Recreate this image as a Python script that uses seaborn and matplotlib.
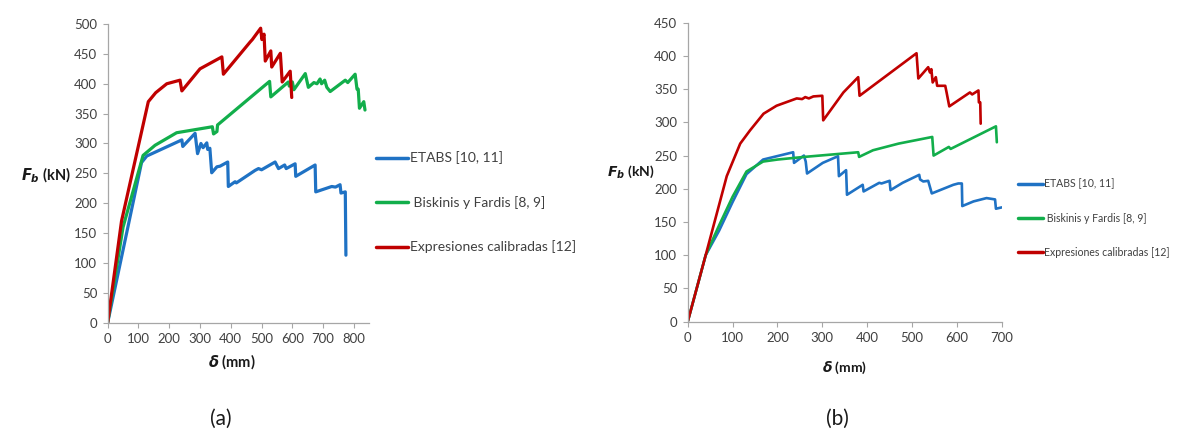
import matplotlib
matplotlib.use("Agg")
import matplotlib.pyplot as plt
import seaborn as sns
import numpy as np

# ---------------- data: panel (a) ----------------
a_etabs_x = [0, 110, 127, 241, 244, 284, 292, 303, 310, 322, 325, 332, 338, 355, 365, 390, 392,
             414, 418, 479, 490, 500, 544, 555, 575, 580, 609, 611, 674, 676, 728, 740, 755, 758,
             772, 774]
a_etabs_y = [0, 268, 279, 306, 295, 317, 283, 300, 293, 301, 290, 292, 251, 261, 262, 269, 228,
             236, 234, 255, 258, 256, 269, 258, 264, 258, 266, 245, 264, 219, 228, 227, 231, 217,
             219, 113]

a_bisk_x = [0, 50, 115, 154, 224, 340, 344, 355, 357, 526, 530, 587, 590, 600, 605, 642, 652,
            670, 680, 690, 695, 705, 712, 723, 772, 780, 804, 810, 814, 818, 832, 836]
a_bisk_y = [0, 160, 280, 297, 318, 328, 316, 320, 331, 404, 378, 403, 396, 403, 390, 417, 394,
            402, 400, 408, 400, 406, 394, 387, 406, 402, 416, 391, 391, 359, 370, 356]

a_expr_x = [0, 45, 132, 156, 192, 235, 241, 300, 371, 376, 463, 470, 497, 501, 508, 512, 530,
            533, 561, 567, 593, 598]
a_expr_y = [0, 170, 370, 385, 400, 406, 388, 425, 445, 416, 470, 474, 493, 474, 483, 438, 455,
            428, 451, 403, 421, 377]

# ---------------- data: panel (b) ----------------
b_etabs_x = [0, 40, 70, 100, 131, 168, 235, 237, 259, 263, 266, 301, 335, 337, 353, 355, 390, 392,
             427, 432, 450, 452, 479, 516, 518, 525, 536, 544, 592, 603, 611, 612, 637, 666,
             685, 687, 700]
b_etabs_y = [0, 100, 137, 180, 222, 244, 255, 239, 250, 241, 223, 239, 249, 219, 228, 191, 206, 196,
             209, 208, 212, 198, 209, 221, 214, 211, 212, 193, 206, 208, 208, 174, 181, 186,
             184, 170, 172]

b_bisk_x = [0, 40, 70, 100, 131, 168, 200, 260, 380, 382, 413, 470, 545, 548, 582, 586, 687, 689]
b_bisk_y = [0, 100, 145, 188, 226, 241, 244, 248, 255, 248, 258, 268, 278, 250, 263, 260, 294, 270]

b_expr_x = [0, 40, 87, 117, 139, 169, 198, 243, 255, 262, 270, 280, 300, 302, 347, 380, 383,
            510, 514, 536, 540, 543, 546, 553, 556, 574, 577, 583, 629, 634, 648, 649, 652, 653]
b_expr_y = [0, 100, 219, 268, 288, 313, 325, 336, 335, 338, 336, 339, 340, 303, 345, 368, 340,
            404, 366, 383, 375, 380, 360, 368, 355, 355, 345, 324, 345, 342, 348, 330, 330, 298]

labels = ["ETABS [10, 11]", " Biskinis y Fardis [8, 9]", "Expresiones calibradas [12]"]
colors = ["#1F72C4", "#12AE4B", "#C00000"]

a_xticks = [0, 100, 200, 300, 400, 500, 600, 700, 800]
a_yticks = [0, 50, 100, 150, 200, 250, 300, 350, 400, 450, 500]
b_xticks = [0, 100, 200, 300, 400, 500, 600, 700]
b_yticks = [0, 50, 100, 150, 200, 250, 300, 350, 400, 450]

# ---------------- style ----------------
sns.set_theme(style="white")
plt.rcParams["font.family"] = ["Lato", "DejaVu Sans"]
plt.rcParams["mathtext.fontset"] = "custom"
plt.rcParams["mathtext.it"] = "DejaVu Sans:italic:bold"
plt.rcParams["mathtext.rm"] = "DejaVu Sans:bold"

fig = plt.figure(figsize=(11.78, 4.36), dpi=100)
ax1 = fig.add_axes([0.0914, 0.2599, 0.2221, 0.685])
ax2 = fig.add_axes([0.5838, 0.2622, 0.2666, 0.6858])

spine_c = "#A6A6A6"
text_c = "#404040"


def style_axes(ax, xticks, yticks, xmax, ymax):
    ax.set_xlim(0, xmax)
    ax.set_ylim(0, ymax)
    ax.set_xticks(xticks)
    ax.set_yticks(yticks)
    for s in ["top", "right"]:
        ax.spines[s].set_visible(False)
    for s in ["left", "bottom"]:
        ax.spines[s].set_color(spine_c)
        ax.spines[s].set_linewidth(0.9)
    ax.tick_params(axis="both", which="major", direction="out", length=3.5, width=0.8,
                   color=spine_c, labelcolor=text_c, labelsize=9.5, left=True, bottom=True, pad=4)
    ax.set_xlabel("")
    ax.set_ylabel("")


series_a = [(a_etabs_x, a_etabs_y), (a_bisk_x, a_bisk_y), (a_expr_x, a_expr_y)]
series_b = [(b_etabs_x, b_etabs_y), (b_bisk_x, b_bisk_y), (b_expr_x, b_expr_y)]

for (x, y), lab, c in zip(series_a, labels, colors):
    sns.lineplot(x=x, y=y, sort=False, estimator=None, color=c, linewidth=2.3, label=lab, ax=ax1)
for (x, y), lab, c in zip(series_b, labels, colors):
    sns.lineplot(x=x, y=y, sort=False, estimator=None, color=c, linewidth=1.9, label=lab, ax=ax2)

style_axes(ax1, a_xticks, a_yticks, 850, 500)
style_axes(ax2, b_xticks, b_yticks, 700, 450)

# legends
leg1 = ax1.legend(loc="center left", bbox_to_anchor=(0.3195, 0.5355), bbox_transform=fig.transFigure,
                  frameon=False, fontsize=10, handlelength=2.3, handletextpad=0.1, labelspacing=2.27,
                  borderpad=0, borderaxespad=0)
leg2 = ax2.legend(loc="center left", bbox_to_anchor=(0.8642, 0.4993), bbox_transform=fig.transFigure,
                  frameon=False, fontsize=7.6, handlelength=2.4, handletextpad=0.05,
                  labelspacing=2.2, borderpad=0, borderaxespad=0)
for leg in (leg1, leg2):
    for t in leg.get_texts():
        t.set_color(text_c)
    for h in leg.get_lines():
        h.set_linewidth(2.5)

# axis labels
fig.text(46 / 1178, 1 - 175 / 436, r"$F_b$ (kN)", ha="center", va="center", fontsize=10.5,
         fontweight="bold", color="#1a1a1a")
fig.text(631 / 1178, 1 - 172 / 436, r"$F_b$ (kN)", ha="center", va="center", fontsize=10,
         fontweight="bold", color="#1a1a1a")
fig.text(232 / 1178, 1 - 362 / 436, r"$\delta$ (mm)", ha="center", va="center", fontsize=10.5,
         fontweight="bold", color="#1a1a1a")
fig.text(845 / 1178, 1 - 368 / 436, r"$\delta$ (mm)", ha="center", va="center", fontsize=10,
         fontweight="bold", color="#1a1a1a")

# panel labels
fig.text(221 / 1178, 1 - 419 / 436, "(a)", ha="center", va="center", fontsize=15, color="#1a1a1a")
fig.text(837 / 1178, 1 - 419 / 436, "(b)", ha="center", va="center", fontsize=15, color="#1a1a1a")

fig.savefig("out.png", dpi=100)
